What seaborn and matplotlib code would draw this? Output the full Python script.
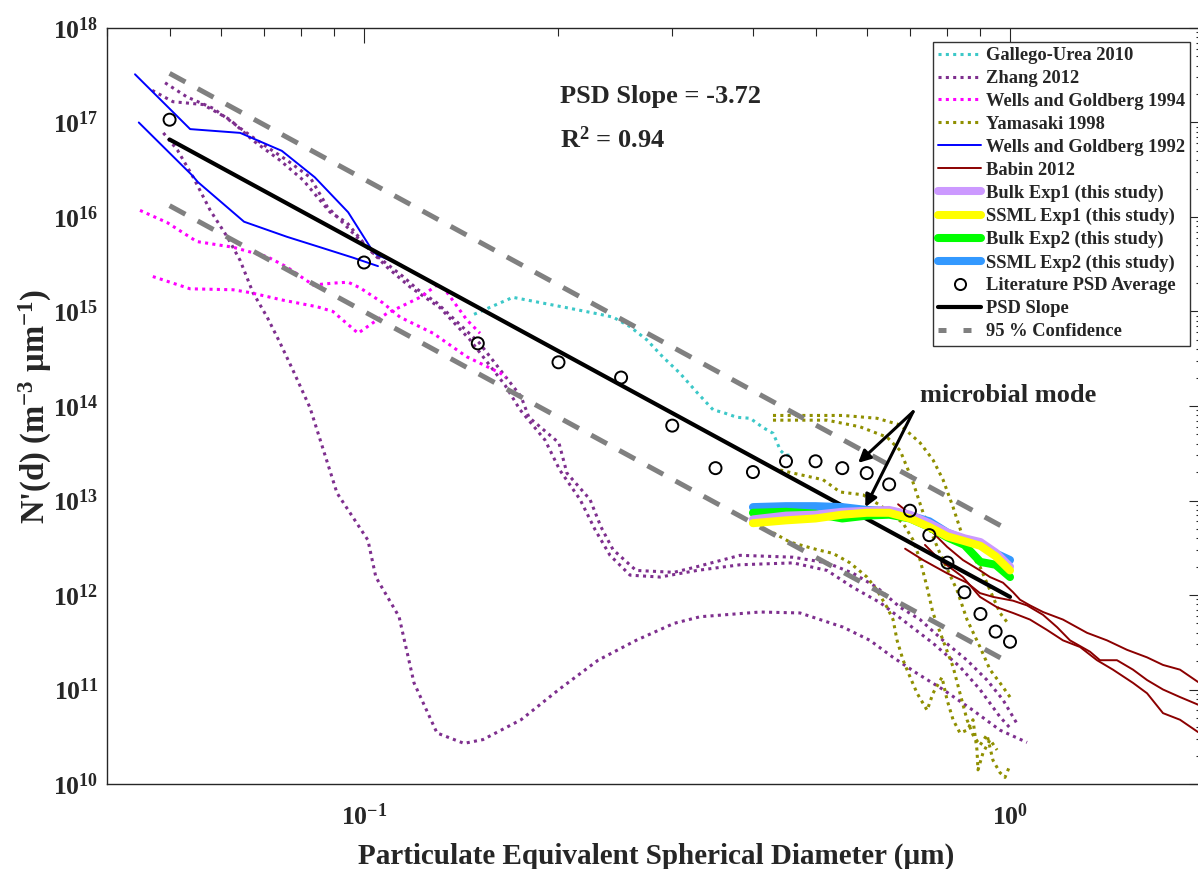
import os
import numpy as np
import matplotlib
matplotlib.use("Agg")
import matplotlib.pyplot as plt
import matplotlib.patheffects as pe
from matplotlib import font_manager
from matplotlib.lines import Line2D
from matplotlib.ticker import LogLocator, NullFormatter, FixedLocator
import seaborn as sns

# ---- literature curves: diameter (um) and log10 N'(d) (m^-3 um^-1) ----
gallego_d = [0.148, 0.170, 0.206, 0.232, 0.243, 0.258, 0.274, 0.290, 0.308, 0.328,
             0.347, 0.360, 0.378, 0.396, 0.415, 0.430, 0.441, 0.449, 0.461]
gallego_logn = [14.97, 15.15, 15.04, 14.97, 14.94, 14.84, 14.70, 14.52, 14.35, 14.14,
                13.96, 13.93, 13.88, 13.87, 13.77, 13.71, 13.53, 13.48, 13.48]

zhang_a_d = [0.0492, 0.0532, 0.0584, 0.0643, 0.0690, 0.0760, 0.0825, 0.0877, 0.0961, 0.1032,
             0.1149, 0.1212, 0.1297, 0.1507, 0.1750, 0.1800, 0.2003, 0.2061, 0.2238, 0.2327,
             0.2429, 0.2637, 0.3019, 0.3278, 0.3820, 0.4614, 0.5209, 0.5715, 0.6225, 0.6758,
             0.7258, 0.7876, 0.8579, 0.9213, 0.9754, 1.0289]
zhang_a_logn = [17.42, 17.27, 17.15, 16.94, 16.79, 16.60, 16.42, 16.11, 15.83, 15.62,
                15.37, 15.23, 15.09, 14.67, 14.10, 13.88, 13.61, 13.29, 13.01, 12.72,
                12.48, 12.26, 12.24, 12.30, 12.42, 12.40, 12.34, 12.23, 12.08, 11.87,
                11.74, 11.52, 11.31, 11.10, 10.89, 10.62]

zhang_b_d = [0.0470, 0.0506, 0.0563, 0.0620, 0.0673, 0.0741, 0.0805, 0.0886, 0.0941, 0.1011,
             0.1085, 0.1178, 0.1311, 0.1459, 0.1653, 0.1744, 0.1906, 0.2010, 0.2160, 0.2279,
             0.2403, 0.2581, 0.2872, 0.3278, 0.3820, 0.4614, 0.5209, 0.5715, 0.6292, 0.6930,
             0.7599, 0.8367, 0.8985, 0.9650, 1.0071]
zhang_b_logn = [17.34, 17.22, 17.19, 17.03, 16.81, 16.60, 16.39, 16.05, 15.94, 15.68,
                15.47, 15.26, 15.04, 14.70, 14.22, 13.96, 13.64, 13.32, 13.01, 12.69,
                12.42, 12.21, 12.19, 12.26, 12.32, 12.34, 12.26, 12.08, 11.92, 11.70,
                11.49, 11.24, 11.00, 10.71, 10.57]

zhang_c_d = [0.0489, 0.0514, 0.0544, 0.0578, 0.0614, 0.0643, 0.0673, 0.0708, 0.0741, 0.0776,
             0.0825, 0.0908, 0.1014, 0.1043, 0.1133, 0.1195, 0.1297, 0.1428, 0.1528, 0.1750,
             0.2003, 0.2303, 0.2637, 0.3019, 0.3313, 0.4102, 0.4730, 0.5515, 0.6070, 0.6591,
             0.7181, 0.7876, 0.8764, 0.9650, 1.0625]
zhang_c_logn = [16.89, 16.71, 16.42, 16.07, 15.79, 15.54, 15.20, 14.94, 14.67, 14.38,
                13.98, 13.08, 12.58, 12.19, 11.77, 11.07, 10.54, 10.43, 10.47, 10.68,
                11.00, 11.31, 11.52, 11.70, 11.77, 11.82, 11.81, 11.66, 11.52, 11.34,
                11.17, 11.00, 10.78, 10.57, 10.44]

wells94_a_d = [0.0450, 0.0496, 0.0551, 0.0627, 0.0708, 0.0760, 0.0834, 0.0895, 0.0945, 0.0986,
               0.1070, 0.1137, 0.1279, 0.1443, 0.1624, 0.1659]
wells94_a_logn = [16.07, 15.94, 15.74, 15.68, 15.58, 15.47, 15.28, 15.30, 15.31, 15.25,
                  15.09, 14.94, 14.77, 14.52, 14.35, 14.30]

wells94_b_d = [0.0471, 0.0538, 0.0627, 0.0666, 0.0749, 0.0846, 0.0895, 0.0979, 0.1032, 0.1085,
               0.1221, 0.1297, 0.1335, 0.1443, 0.1512]
wells94_b_logn = [15.37, 15.24, 15.23, 15.20, 15.12, 15.05, 15.00, 14.77, 14.88, 14.98,
                  15.15, 15.28, 15.23, 14.91, 14.77]

yamasaki_a_d = [0.4296, 0.4903, 0.5515, 0.6225, 0.6758, 0.7258, 0.7599, 0.7876, 0.8163, 0.8455,
                0.8764, 0.8985, 0.9312, 0.9650, 0.9929]
yamasaki_a_logn = [13.90, 13.90, 13.90, 13.87, 13.80, 13.61, 13.43, 13.22, 12.93, 12.61,
                   12.40, 12.30, 12.05, 11.81, 11.70]

yamasaki_b_d = [0.4296, 0.5209, 0.5858, 0.6451, 0.6758, 0.7055, 0.7336, 0.7791, 0.8279, 0.8579,
                0.8985, 0.9312, 0.9650, 1.0000]
yamasaki_b_logn = [13.85, 13.85, 13.78, 13.67, 13.53, 13.22, 12.87, 12.44, 12.05, 11.74,
                   11.45, 11.21, 11.07, 10.92]

yamasaki_c_d = [0.4296, 0.4614, 0.5135, 0.5456, 0.5921, 0.6292, 0.6520, 0.6831, 0.7080, 0.7258,
                0.7442, 0.7599, 0.7876, 0.8163, 0.8367, 0.8579, 0.8764, 0.8985, 0.9213, 0.9412,
                0.9650, 0.9823, 1.0000]
yamasaki_c_logn = [13.34, 13.29, 13.22, 13.09, 13.06, 12.95, 12.87, 12.76, 12.58, 12.37,
                   12.08, 11.81, 11.52, 11.24, 10.96, 10.68, 10.52, 10.41, 10.52, 10.25,
                   10.12, 10.07, 10.20]

yamasaki_d_d = [0.4296, 0.4564, 0.5027, 0.5321, 0.5654, 0.6006, 0.6225, 0.6451, 0.6591, 0.6686,
                0.6831, 0.7005, 0.7181, 0.7442, 0.7599, 0.7847, 0.7990, 0.8163, 0.8367, 0.8579,
                0.8764, 0.8889, 0.8921, 0.9082, 0.9312, 0.9548]
yamasaki_d_logn = [12.66, 12.56, 12.48, 12.44, 12.34, 12.19, 12.05, 11.87, 11.74, 11.52,
                   11.31, 11.13, 10.96, 10.78, 10.96, 11.13, 10.89, 10.68, 10.54, 10.57,
                   10.68, 10.36, 10.15, 10.33, 10.47, 10.36]

wells92_a_d = [0.0442, 0.0538, 0.0643, 0.0746, 0.0839, 0.0945, 0.1029, 0.1047, 0.1145]
wells92_a_logn = [17.51, 16.93, 16.89, 16.70, 16.42, 16.05, 15.65, 15.60, 15.49]

wells92_b_d = [0.0448, 0.0542, 0.0553, 0.0652, 0.0760, 0.0855, 0.0961, 0.1051]
wells92_b_logn = [17.00, 16.44, 16.37, 15.95, 15.79, 15.68, 15.57, 15.48]

babin_a_d = [0.6710, 0.7080, 0.7518, 0.7990, 0.8455, 0.8985, 0.9312, 0.9754, 1.0107, 1.0363,
             1.0739, 1.1249, 1.2078, 1.3158, 1.4130, 1.5173, 1.6300, 1.7252, 1.8330, 1.9544, 2.0]
babin_a_logn = [12.96, 12.83, 12.69, 12.51, 12.37, 12.26, 12.19, 12.13, 12.03, 11.95,
                11.89, 11.82, 11.74, 11.60, 11.52, 11.42, 11.34, 11.26, 11.21, 11.08, 11.05]

babin_b_d = [0.6880, 0.7336, 0.7990, 0.8579, 0.8985, 0.9412, 1.0107, 1.0625, 1.1249, 1.1825,
             1.2384, 1.3299, 1.3781, 1.4641, 1.5502, 1.6300, 1.7252, 1.8330, 1.9544, 2.0]
babin_b_logn = [12.49, 12.37, 12.23, 12.13, 12.02, 11.98, 11.94, 11.89, 11.79, 11.66,
                11.52, 11.40, 11.31, 11.31, 11.21, 11.10, 11.00, 10.92, 10.84, 10.82]

babin_c_d = [0.7385, 0.7791, 0.8455, 0.8985, 0.9548, 1.0107, 1.0739, 1.1410, 1.2078, 1.2834,
             1.3636, 1.4433, 1.5502, 1.6300, 1.7252, 1.8330, 1.9544, 2.0]
babin_c_logn = [12.53, 12.37, 12.19, 11.98, 11.87, 11.81, 11.74, 11.63, 11.52, 11.45,
                11.31, 11.21, 11.07, 10.96, 10.75, 10.68, 10.55, 10.52]

# ---- this study ----
study_d = [0.40, 0.45, 0.50, 0.55, 0.60, 0.65, 0.70, 0.75, 0.80, 0.85, 0.90, 0.95, 1.00]
bulk_exp1_logn = [12.80, 12.84, 12.85, 12.88, 12.89, 12.90, 12.85, 12.76, 12.66, 12.60, 12.56, 12.45, 12.30]
ssml_exp1_logn = [12.76, 12.79, 12.81, 12.85, 12.87, 12.87, 12.81, 12.72, 12.62, 12.57, 12.52, 12.41, 12.26]
bulk_exp2_logn = [12.87, 12.88, 12.86, 12.81, 12.84, 12.85, 12.81, 12.72, 12.61, 12.53, 12.35, 12.32, 12.19]
ssml_exp2_logn = [12.93, 12.94, 12.94, 12.93, 12.90, 12.89, 12.84, 12.78, 12.66, 12.59, 12.53, 12.44, 12.37]

# ---- literature average and fit ----
lit_d = [0.05, 0.10, 0.15, 0.20, 0.25, 0.30, 0.35, 0.40, 0.45, 0.50,
         0.55, 0.60, 0.65, 0.70, 0.75, 0.80, 0.85, 0.90, 0.95, 1.00]
lit_n = [1.07e17, 3.3e15, 4.6e14, 2.9e14, 2.0e14, 6.2e13, 2.2e13, 2.0e13, 2.6e13, 2.6e13,
         2.2e13, 1.95e13, 1.48e13, 7.8e12, 4.3e12, 2.2e12, 1.07e12, 6.3e11, 4.1e11, 3.2e11]
psd_slope = -3.72
psd_log_at_1um = 11.98
ci_log_offset = 0.70
r_squared = 0.94

# ---- colours ----
c_gallego = '#3cc8c8'
c_zhang = '#7e2f8e'
c_wells94 = '#ff00ff'
c_yamasaki = '#8f8f00'
c_wells92 = '#0000ff'
c_babin = '#8b0000'
c_bulk1 = '#cc99ff'
c_ssml1 = '#ffff00'
c_bulk2 = '#00ff00'
c_ssml2 = '#3399ff'

sns.set_theme(style='white')
plt.rcParams['font.family'] = ['Liberation Serif', 'DejaVu Serif']
plt.rcParams['font.weight'] = 'bold'
plt.rcParams['mathtext.fontset'] = 'custom'
plt.rcParams['mathtext.rm'] = 'Liberation Serif:bold'
plt.rcParams['mathtext.it'] = 'Liberation Serif:bold'
plt.rcParams['mathtext.bf'] = 'Liberation Serif:bold'
plt.rcParams['mathtext.default'] = 'rm'
plt.rcParams['axes.unicode_minus'] = False

# if no real bold face is found, thicken the glyphs with a thin stroke
bold_file = font_manager.findfont(font_manager.FontProperties(family='Liberation Serif',
                                                              weight='bold'))
fake_bold = 'bold' not in os.path.basename(bold_file).lower()

fig = plt.figure(figsize=(11.98, 8.69), dpi=100)
ax = fig.add_axes([0.0893, 0.0978, 0.9161, 0.870])

dot = (0, (1, 1.4))
dotted_sets = [
    (gallego_d, gallego_logn, c_gallego),
    (zhang_a_d, zhang_a_logn, c_zhang),
    (zhang_b_d, zhang_b_logn, c_zhang),
    (zhang_c_d, zhang_c_logn, c_zhang),
    (wells94_a_d, wells94_a_logn, c_wells94),
    (wells94_b_d, wells94_b_logn, c_wells94),
    (yamasaki_a_d, yamasaki_a_logn, c_yamasaki),
    (yamasaki_b_d, yamasaki_b_logn, c_yamasaki),
    (yamasaki_c_d, yamasaki_c_logn, c_yamasaki),
    (yamasaki_d_d, yamasaki_d_logn, c_yamasaki),
]
for d, logn, col in dotted_sets:
    sns.lineplot(x=d, y=10 ** np.array(logn), ax=ax, color=col, lw=2.2,
                 linestyle=dot, sort=False, estimator=None)

for d, logn in [(wells92_a_d, wells92_a_logn), (wells92_b_d, wells92_b_logn)]:
    sns.lineplot(x=d, y=10 ** np.array(logn), ax=ax, color=c_wells92, lw=1.4,
                 sort=False, estimator=None)

for d, logn in [(babin_a_d, babin_a_logn), (babin_b_d, babin_b_logn), (babin_c_d, babin_c_logn)]:
    sns.lineplot(x=d, y=10 ** np.array(logn), ax=ax, color=c_babin, lw=1.4,
                 sort=False, estimator=None)

# fit line and confidence band
fit_d = np.array([min(lit_d), max(lit_d)])
fit_log = psd_log_at_1um + psd_slope * np.log10(fit_d)
dash = (0, (3.6, 2.8))
for off in (ci_log_offset, -ci_log_offset):
    sns.lineplot(x=fit_d, y=10 ** (fit_log + off), ax=ax, color='#808080', lw=3.6,
                 linestyle=dash, sort=False, estimator=None)
sns.lineplot(x=fit_d, y=10 ** fit_log, ax=ax, color='black', lw=3.0,
             sort=False, estimator=None)

# this study
for logn, col in [(ssml_exp2_logn, c_ssml2), (bulk_exp2_logn, c_bulk2),
                  (bulk_exp1_logn, c_bulk1), (ssml_exp1_logn, c_ssml1)]:
    sns.lineplot(x=study_d, y=10 ** np.array(logn), ax=ax, color=col, lw=5.8,
                 sort=False, estimator=None)

sns.scatterplot(x=lit_d, y=lit_n, ax=ax, marker='o', s=75, facecolor='none',
                edgecolor='black', linewidth=1.4, zorder=5)

ax.set_xscale('log')
ax.set_yscale('log')
ax.set_xlim(0.04, 2.0)
ax.set_ylim(1e10, 1e18)

ax.xaxis.set_major_locator(FixedLocator([0.1, 1.0]))
ax.xaxis.set_minor_locator(LogLocator(base=10, subs=np.arange(2, 10), numticks=20))
ax.yaxis.set_major_locator(LogLocator(base=10, numticks=20))
ax.yaxis.set_minor_locator(LogLocator(base=10, subs=np.arange(2, 10), numticks=100))
ax.xaxis.set_minor_formatter(NullFormatter())
ax.yaxis.set_minor_formatter(NullFormatter())

axis_col = '#262626'
ax.tick_params(which='both', direction='in', top=True, right=True, color=axis_col,
               labelsize=18.5, width=0.8)
ax.tick_params(which='major', length=11)
ax.tick_params(which='minor', length=6)
ax.tick_params(axis='x', which='major', pad=14)
ax.tick_params(axis='y', which='major', pad=6)
for sp in ax.spines.values():
    sp.set_color(axis_col)
    sp.set_linewidth(1.0)

ax.set_xlabel('Particulate Equivalent Spherical Diameter (µm)', fontsize=21,
              fontweight='bold', labelpad=9)
ax.set_ylabel("N'(d) (m$^{-3}$ µm$^{-1}$)", fontsize=23.5, fontweight='bold')
ax.yaxis.set_label_coords(-0.048, 0.5)

ax.text(0.413, 0.909, f'PSD Slope = {psd_slope:.2f}', transform=ax.transAxes,
        fontsize=19, fontweight='bold', va='center', ha='left')
ax.text(0.413, 0.852, f'R$^2$ = {r_squared:.2f}', transform=ax.transAxes,
        fontsize=19, fontweight='bold', va='center', ha='left')

ax.text(0.993, 1.3e14, 'microbial mode', fontsize=19, fontweight='bold',
        ha='center', va='center')
for head in [(0.582, 2.5e13), (0.597, 8.5e12)]:
    ax.annotate('', xy=head, xytext=(0.708, 8.7e13),
                arrowprops=dict(arrowstyle='-|>', color='black', lw=2.2,
                                mutation_scale=18, shrinkA=0, shrinkB=0))

handles = [
    Line2D([], [], color=c_gallego, lw=2.2, linestyle=dot),
    Line2D([], [], color=c_zhang, lw=2.2, linestyle=dot),
    Line2D([], [], color=c_wells94, lw=2.2, linestyle=dot),
    Line2D([], [], color=c_yamasaki, lw=2.2, linestyle=dot),
    Line2D([], [], color=c_wells92, lw=1.4),
    Line2D([], [], color=c_babin, lw=1.4),
    Line2D([], [], color=c_bulk1, lw=5.8),
    Line2D([], [], color=c_ssml1, lw=5.8),
    Line2D([], [], color=c_bulk2, lw=5.8),
    Line2D([], [], color=c_ssml2, lw=5.8),
    Line2D([], [], color='black', marker='o', markerfacecolor='none', markersize=8,
           markeredgewidth=1.4, linestyle='none'),
    Line2D([], [], color='black', lw=3.0),
    Line2D([], [], color='#808080', lw=3.6, linestyle=(0, (1.6, 3.4))),
]
labels = ['Gallego-Urea 2010', 'Zhang 2012', 'Wells and Goldberg 1994', 'Yamasaki 1998',
          'Wells and Goldberg 1992', 'Babin 2012', 'Bulk Exp1 (this study)',
          'SSML Exp1 (this study)', 'Bulk Exp2 (this study)', 'SSML Exp2 (this study)',
          'Literature PSD Average', 'PSD Slope', '95 % Confidence']
leg = ax.legend(handles, labels, loc='upper right', bbox_to_anchor=(0.987, 0.982),
                borderaxespad=0, fancybox=False, framealpha=1, edgecolor='#333333',
                prop={'weight': 'bold', 'size': 13.3}, handlelength=2.3,
                handletextpad=0.25, labelspacing=0.32, borderpad=0.3)
leg.get_frame().set_linewidth(1.0)

fig.canvas.draw()
if fake_bold:
    for t in fig.findobj(matplotlib.text.Text):
        if t.get_text():
            t.set_path_effects([pe.withStroke(linewidth=0.9, foreground=t.get_color())])

fig.savefig('out.png', dpi=100)
